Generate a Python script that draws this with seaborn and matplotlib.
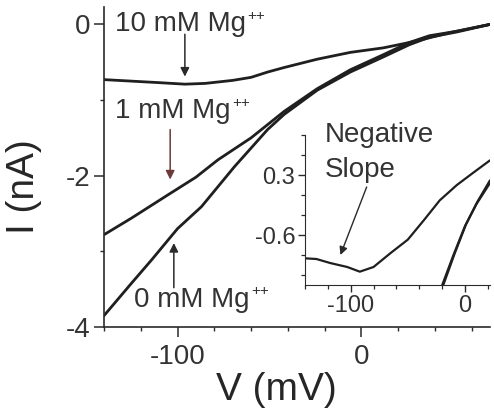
import numpy as np
import pandas as pd
import matplotlib
matplotlib.use("Agg")
import matplotlib.pyplot as plt
import seaborn as sns

# ---------------- data ----------------
# main panel: I-V curves at three Mg++ concentrations
v_10mM = [-140, -125, -110, -96, -85, -70, -60, -51, -42, -24, -6, 12, 30, 48, 70]
i_10mM = [-0.73, -0.75, -0.77, -0.79, -0.78, -0.74, -0.70, -0.63, -0.57, -0.46, -0.37, -0.31, -0.22, -0.11, 0.0]

v_1mM = [-140, -125, -105, -90, -78, -60, -42, -24, -6, 12, 26, 37, 52, 70]
i_1mM = [-2.78, -2.56, -2.25, -2.02, -1.79, -1.50, -1.15, -0.85, -0.60, -0.40, -0.24, -0.15, -0.09, 0.0]

v_0mM = [-140, -125, -114, -100, -87, -69, -51, -42, -24, -6, 12, 26, 37, 52, 70]
i_0mM = [-3.85, -3.42, -3.11, -2.70, -2.41, -1.88, -1.39, -1.19, -0.87, -0.63, -0.43, -0.27, -0.17, -0.10, 0.0]

# inset: negative-slope region (10 mM) and steep curves
v_inset_neg = [-140, -130, -118, -103, -92, -80, -65, -50, -36, -22, -7, 7, 22]
i_inset_neg = [-0.95, -0.96, -1.02, -1.08, -1.15, -1.08, -0.87, -0.67, -0.38, -0.08, 0.15, 0.33, 0.52]

v_inset_a = [-22, -10, 0, 10, 22]
i_inset_a = [-1.45, -0.90, -0.47, -0.14, 0.18]
v_inset_b = [-21, -9, 1, 11, 22]
i_inset_b = [-1.45, -0.88, -0.44, -0.10, 0.22]

main_xticks = [-100, 0]
main_xminor = [-140, -120, -80, -60, -40, -20, 20, 40, 60]
main_yticks = [-4, -2, 0]
main_yminor = [-3, -1]
inset_xticks = [-100, 0]
inset_xminor = [-140, -120, -80, -60, -40, -20, 20]
inset_yticks = [-0.6, 0.3]
inset_yminor = [-1.2, -0.9, -0.3, 0.0, 0.6, 0.9]

# ---------------- styling ----------------
sns.set_style("ticks")
plt.rcParams["font.family"] = ["Liberation Sans", "DejaVu Sans"]
plt.rcParams["axes.unicode_minus"] = False
LINE = "#1f1f1f"
TXT = "#333333"
plt.rcParams["text.color"] = TXT
plt.rcParams["axes.edgecolor"] = "#2a2a2a"
plt.rcParams["xtick.color"] = "#2a2a2a"
plt.rcParams["ytick.color"] = "#2a2a2a"
plt.rcParams["xtick.labelcolor"] = TXT
plt.rcParams["ytick.labelcolor"] = TXT

fig = plt.figure(figsize=(4.94, 4.2), dpi=100)
ax = fig.add_axes([104 / 494, 1 - 327 / 420, 386 / 494, 320 / 420])

main_df = pd.concat([
    pd.DataFrame({"V": v_10mM, "I": i_10mM, "s": "10"}),
    pd.DataFrame({"V": v_1mM, "I": i_1mM, "s": "1"}),
    pd.DataFrame({"V": v_0mM, "I": i_0mM, "s": "0"}),
])
sns.lineplot(data=main_df, x="V", y="I", hue="s", palette={"10": LINE, "1": LINE, "0": LINE},
             estimator=None, sort=False, legend=False, lw=2.0, ax=ax)

ax.set_xlim(-140, 70)
ax.set_ylim(-4, 0.23)
sns.despine(ax=ax)
ax.spines["left"].set_linewidth(1.2)
ax.spines["bottom"].set_linewidth(1.2)
ax.set_xticks(main_xticks)
ax.set_xticks(main_xminor, minor=True)
ax.set_yticks(main_yticks)
ax.set_yticks(main_yminor, minor=True)
ax.tick_params(axis="both", which="major", labelsize=20, direction="out", length=7, width=1.1, pad=3)
ax.tick_params(axis="both", which="minor", direction="out", length=3, width=1.0)
ax.tick_params(axis="x", which="major", pad=5)

ax.set_xlabel("V (mV)", fontsize=28, va="center")
ax.xaxis.set_label_coords((276 - 104) / 386, -(390 - 327) / 320)
ax.set_ylabel("I (nA)", fontsize=28, va="center")
ax.yaxis.set_label_coords((24 - 104) / 386, 1 - (187 - 7) / 320)

# labels with superscript ++
def mg_label(axis, x, y, text, fs=20, supfs=11):
    t = axis.text(x, y, text, fontsize=fs, va="center", ha="left", color=TXT)
    axis.annotate("++", xy=(1.0, 0.84), xycoords=t, xytext=(1, 0), textcoords="offset points",
                  fontsize=supfs, va="center", ha="left", color=TXT)
    return t

mg_label(ax, -134, 0.0, "10 mM Mg")
mg_label(ax, -134, -1.15, "1 mM Mg")
mg_label(ax, -123.5, -3.64, "0 mM Mg")

arrow_kw = dict(arrowstyle="-|>", mutation_scale=13, lw=1.1, shrinkA=0, shrinkB=0)
ax.annotate("", xy=(-96, -0.69), xytext=(-96, -0.13), arrowprops=dict(color="#2a2a2a", **arrow_kw))
ax.annotate("", xy=(-104, -2.05), xytext=(-104, -1.39), arrowprops=dict(color="#6b3b3b", **arrow_kw))
ax.annotate("", xy=(-102, -2.89), xytext=(-102, -3.48), arrowprops=dict(color="#2a2a2a", **arrow_kw))

# ---------------- inset ----------------
ins = fig.add_axes([305 / 494, 1 - 285 / 420, 185 / 494, 150 / 420])
ins.patch.set_alpha(0)
inset_df = pd.concat([
    pd.DataFrame({"V": v_inset_neg, "I": i_inset_neg, "s": "neg"}),
    pd.DataFrame({"V": v_inset_a, "I": i_inset_a, "s": "a"}),
    pd.DataFrame({"V": v_inset_b, "I": i_inset_b, "s": "b"}),
])
sns.lineplot(data=inset_df, x="V", y="I", hue="s", palette={"neg": LINE, "a": LINE, "b": LINE},
             estimator=None, sort=False, legend=False, lw=1.6, ax=ins)
ins.set_xlim(-140, 22)
ins.set_ylim(-1.35, 0.9)
sns.despine(ax=ins)
ins.set_xlabel("")
ins.set_ylabel("")
ins.set_xticks(inset_xticks)
ins.set_xticks(inset_xminor, minor=True)
ins.set_yticks(inset_yticks)
ins.set_yticklabels(["-0.6", "0.3"])
ins.set_yticks(inset_yminor, minor=True)
ins.tick_params(axis="both", which="major", labelsize=17, direction="out", length=5, width=1.0, pad=2)
ins.tick_params(axis="both", which="minor", direction="out", length=3, width=0.9)

ins.text(-122.5, 0.9, "Negative", fontsize=20, va="center", ha="left", color=TXT)
ins.text(-122.5, 0.38, "Slope", fontsize=20, va="center", ha="left", color=TXT)
ins.annotate("", xy=(-109, -0.9), xytext=(-86, 0.12),
             arrowprops=dict(color="#2a2a2a", arrowstyle="-|>", mutation_scale=12, lw=1.0,
                             shrinkA=0, shrinkB=0))

fig.savefig("out.png", dpi=100)
